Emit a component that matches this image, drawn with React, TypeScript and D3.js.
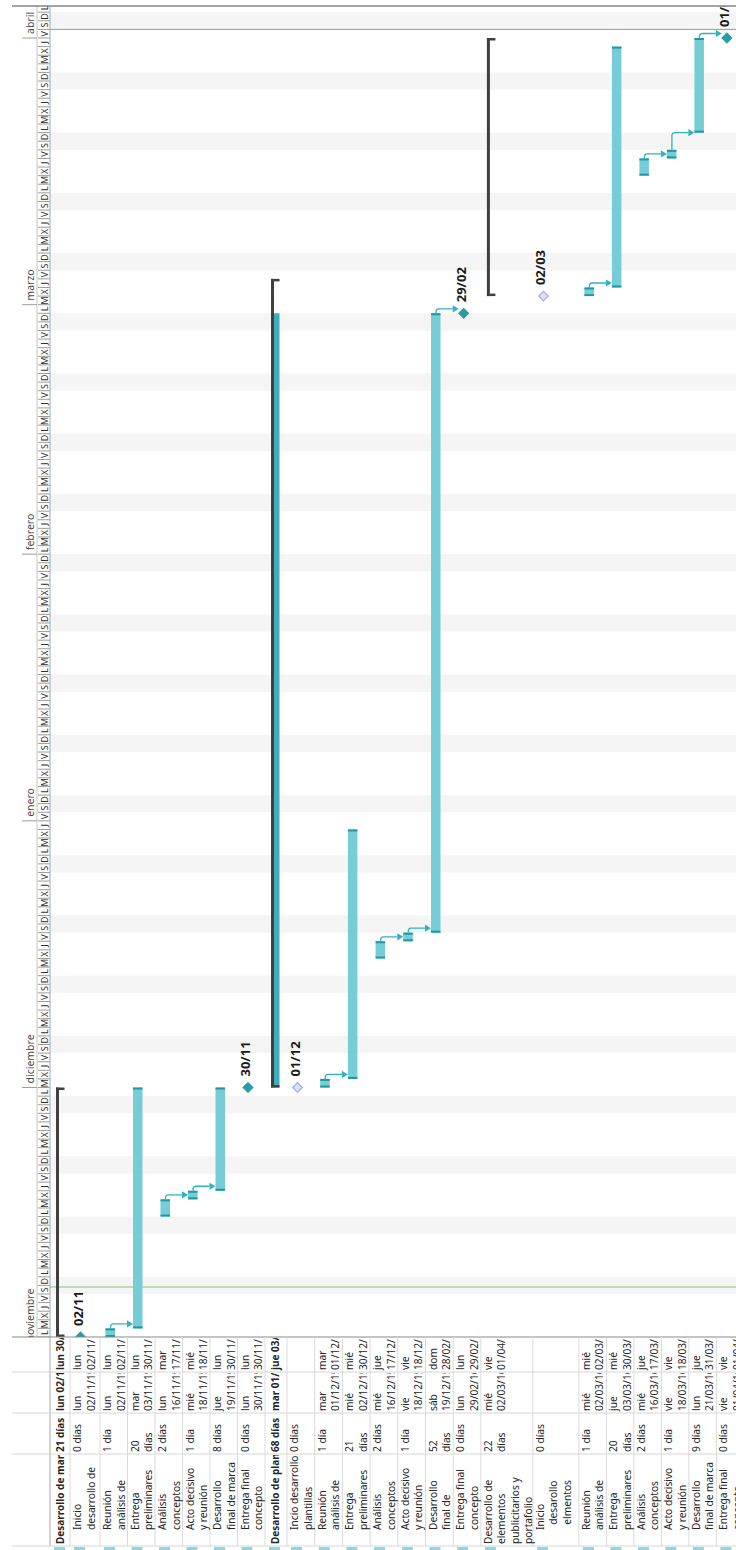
import React from "react";
import * as d3 from "d3";

const W = 736;
const H = 1550;

// ---------------- data ----------------
const taskNames = [
  "Desarrollo de marca",
  "Inicio|desarrollo de",
  "Reunión|análisis de",
  "Entrega|preliminares",
  "Análisis|conceptos",
  "Acto decisivo|y reunión",
  "Desarrollo|final de marca",
  "Entrega final|concepto",
  "Desarrollo de plantillas",
  "Incio desarrollo|plantillas",
  "Reunión|análisis de",
  "Entrega|preliminares",
  "Análisis|conceptos",
  "Acto decisivo|y reunión",
  "Desarrollo|final de",
  "Entrega final|concepto",
  "Desarrollo de|elementos|publicitarios y|portafolio",
  "Inicio|  desarollo|  elmentos",
  "Reunión|análisis de",
  "Entrega|preliminares",
  "Análisis|conceptos",
  "Acto decisivo|y reunión",
  "Desarrollo|final de marca",
  "Entrega final|concepto",
];

const durations = [
  "21 días", "0 días", "1 día", "20 días", "2 días", "1 día", "8 días", "0 días",
  "68 días", "0 días", "1 día", "21 días", "2 días", "1 día", "52 días", "0 días",
  "22 días", "0 días", "1 día", "20 días", "2 días", "1 día", "9 días", "0 días",
];

const startTexts = [
  "lun 02/11/15", "lun 02/11/15", "lun 02/11/15", "mar 03/11/15", "lun 16/11/15", "mié 18/11/15",
  "jue 19/11/15", "lun 30/11/15", "mar 01/12/15", "", "mar 01/12/15", "mié 02/12/15",
  "mié 16/12/15", "vie 18/12/15", "sáb 19/12/15", "lun 29/02/16", "mié 02/03/16", "",
  "mié 02/03/16", "jue 03/03/16", "mié 16/03/16", "vie 18/03/16", "lun 21/03/16", "vie 01/04/16",
];

const finishTexts = [
  "lun 30/11/15", "lun 02/11/15", "lun 02/11/15", "lun 30/11/15", "mar 17/11/15", "mié 18/11/15",
  "lun 30/11/15", "lun 30/11/15", "jue 03/03/16", "", "mar 01/12/15", "mié 30/12/15",
  "jue 17/12/15", "vie 18/12/15", "dom 28/02/16", "lun 29/02/16", "vie 01/04/16", "",
  "mié 02/03/16", "mié 30/03/16", "jue 17/03/16", "vie 18/03/16", "jue 31/03/16", "vie 01/04/16",
];

// drawn kinds: summary bracket, task bar, milestone (filled), open milestone
const rowKinds = [
  "summary", "milestone", "task", "task", "task", "task", "task", "milestone",
  "summary", "open", "task", "task", "task", "task", "task", "milestone",
  "summary", "open", "task", "task", "task", "task", "task", "milestone",
];

// timeline positions (from = start of day, to = exclusive end)
const barFrom = [
  "2015-11-02", "2015-11-02", "2015-11-02", "2015-11-03", "2015-11-16", "2015-11-18", "2015-11-19", "2015-12-01",
  "2015-12-01", "2015-12-01", "2015-12-01", "2015-12-02", "2015-12-16", "2015-12-18", "2015-12-19", "2016-02-29",
  "2016-03-02", "2016-03-02", "2016-03-02", "2016-03-03", "2016-03-16", "2016-03-18", "2016-03-21", "2016-04-01",
];
const barTo = [
  "2015-12-01", "2015-11-02", "2015-11-03", "2015-12-01", "2015-11-18", "2015-11-19", "2015-12-01", "2015-12-01",
  "2016-03-04", "2015-12-01", "2015-12-02", "2015-12-31", "2015-12-18", "2015-12-19", "2016-02-29", "2016-02-29",
  "2016-04-01", "2016-03-02", "2016-03-03", "2016-03-31", "2016-03-18", "2016-03-19", "2016-04-01", "2016-04-01",
];
const summaryProgressTo: (string | null)[] = [
  null, null, null, null, null, null, null, null,
  "2016-02-29", null, null, null, null, null, null, null,
  null, null, null, null, null, null, null, null,
];

const milestoneLabels = [
  "", "02/11", "", "", "", "", "", "30/11",
  "", "01/12", "", "", "", "", "", "29/02",
  "", "02/03", "", "", "", "", "", "01/04",
];

const links: [number, number][] = [
  [2, 3], [4, 5], [5, 6], [10, 11], [12, 13], [13, 14], [14, 15],
  [18, 19], [20, 21], [21, 22], [22, 23],
];

const boldRows = [0, 8];
const topLevelRows = [0, 8, 16];

const monthNames = [
  "enero", "febrero", "marzo", "abril", "mayo", "junio", "julio",
  "agosto", "septiembre", "octubre", "noviembre", "diciembre",
];
const dayLetters = ["D", "L", "M", "X", "J", "V", "S"];

const statusDate = "2015-11-07T19:30:00Z";
const boundaryDate = "2016-04-02";

// ---------------- layout ----------------
const rowHeights = [
  20, 30, 27.5, 27.5, 27.5, 27.5, 27.5, 27.5,
  22, 27.7, 27.7, 27.7, 27.7, 27.7, 27.7, 27.7,
  52, 46, 27.5, 27.5, 27.5, 27.5, 27.5, 27.5,
];
const ROW0 = 50;
const rowStarts = rowHeights.map((_, i) => ROW0 + d3.sum(rowHeights.slice(0, i)));
const rowEnd = ROW0 + d3.sum(rowHeights);

const COLS = [4, 96, 137, 178, 213]; // table column edges (local u)
const CHART_U0 = 213;
const CHART_U1 = 1544;
const HDR_V0 = 12;
const TIER_V = 37;

const pd = (s: string) => new Date(s.length <= 10 ? s + "T00:00:00Z" : s);

const x = d3
  .scaleUtc()
  .domain([pd("2015-11-02"), pd("2016-04-01")])
  .range([213, 1512]);

const FONT = "'Noto Sans', 'Open Sans', sans-serif";
const BAR_FILL = "#76CDD6";
const BAR_CAP = "#1F98A3";
const LINK = "#2FB3C2";
const TEXT = "#262626";

function diamond(cx: number, cy: number, r: number) {
  return `M${cx - r},${cy} L${cx},${cy - r} L${cx + r},${cy} L${cx},${cy + r} Z`;
}

export default function App() {
  const saturdays = d3.utcSaturday.range(pd("2015-10-24"), pd("2016-04-16"));
  const days = d3.utcDay.range(pd("2015-10-30"), pd("2016-04-08"));
  const months = d3.utcMonth.range(pd("2015-10-01"), pd("2016-05-01"));

  const barV = (i: number) => rowStarts[i] + 10.5;

  return (
    <svg
      width={W}
      height={H}
      style={{ position: "absolute", left: 0, top: 0, background: "#fff" }}
      fontFamily={FONT}
    >
      <g transform={`translate(0,${H}) rotate(-90)`}>
        <defs>
          <clipPath id="chartClip">
            <rect x={CHART_U0} y={ROW0} width={CHART_U1 - CHART_U0} height={W - ROW0} />
          </clipPath>
          <clipPath id="hdrClip">
            <rect x={CHART_U0} y={HDR_V0} width={CHART_U1 - CHART_U0} height={ROW0 - HDR_V0} />
          </clipPath>
          {COLS.slice(0, 4).map((c, k) => (
            <clipPath id={`col${k}`} key={k}>
              <rect x={c} y={ROW0} width={COLS[k + 1] - c - 1} height={rowEnd - ROW0} />
            </clipPath>
          ))}
        </defs>

        {/* ---------- chart area ---------- */}
        <g clipPath="url(#chartClip)">
          {saturdays.map((s, i) => (
            <rect
              key={i}
              x={x(s)}
              y={ROW0}
              width={x(d3.utcDay.offset(s, 2)) - x(s)}
              height={W - ROW0}
              fill="#F5F5F5"
            />
          ))}
          <line
            x1={x(pd(boundaryDate))}
            x2={x(pd(boundaryDate))}
            y1={ROW0}
            y2={W}
            stroke="#9A9A9A"
            strokeWidth={1}
          />
          <line
            x1={x(pd(statusDate))}
            x2={x(pd(statusDate))}
            y1={ROW0}
            y2={W}
            stroke="#A6D49E"
            strokeWidth={1.5}
          />

          {/* links */}
          {links.map(([a, b], k) => {
            const predEnd = x(pd(barTo[a]));
            const succStart = x(pd(barFrom[b]));
            const v0 = barV(a);
            const succLeft =
              rowKinds[b] === "task" ? rowStarts[b] + 5.5 : barV(b) - 5;
            const au = Math.max(predEnd + 4.5, succStart);
            const r = 3;
            const tip = succLeft;
            const base = tip - 6;
            return (
              <g key={k}>
                <path
                  d={`M${predEnd},${v0} H${au - r} Q${au},${v0} ${au},${v0 + r} V${base}`}
                  fill="none"
                  stroke={LINK}
                  strokeWidth={1.3}
                />
                <path
                  d={`M${au - 3.6},${base} L${au + 3.6},${base} L${au},${tip} Z`}
                  fill={LINK}
                />
              </g>
            );
          })}

          {/* bars */}
          {rowKinds.map((kind, i) => {
            const rs = rowStarts[i];
            const u0 = x(pd(barFrom[i]));
            const u1 = x(pd(barTo[i]));
            if (kind === "task") {
              return (
                <g key={i}>
                  <rect x={u0} y={rs + 5.5} width={u1 - u0} height={9.5} fill={BAR_FILL} />
                  <rect x={u0} y={rs + 5.5} width={2} height={9.5} fill={BAR_CAP} />
                  <rect x={u1 - 2} y={rs + 5.5} width={2} height={9.5} fill={BAR_CAP} />
                </g>
              );
            }
            if (kind === "summary") {
              const p = summaryProgressTo[i];
              return (
                <g key={i}>
                  {p && (
                    <rect x={u0} y={rs + 9} width={x(pd(p)) - u0} height={5.5} fill="#3FAEB8" />
                  )}
                  <rect x={u0} y={rs + 6} width={u1 - u0} height={3} fill="#404040" />
                  <rect x={u0} y={rs + 6} width={2.5} height={8.5} fill="#404040" />
                  <rect x={u1 - 2.5} y={rs + 6} width={2.5} height={8.5} fill="#404040" />
                </g>
              );
            }
            const cv = barV(i);
            const open = kind === "open";
            return (
              <g key={i}>
                <path
                  d={diamond(u0, cv, 4.8)}
                  fill={open ? "#DCE1F6" : "#2A9CA4"}
                  stroke={open ? "#A3AEDF" : "#2A9CA4"}
                  strokeWidth={1.2}
                />
                <text
                  x={u0 + 11}
                  y={cv + 2}
                  fontSize={13}
                  fontWeight="bold"
                  fill="#1A1A1A"
                >
                  {milestoneLabels[i]}
                </text>
              </g>
            );
          })}
        </g>

        {/* ---------- timescale header ---------- */}
        <g clipPath="url(#hdrClip)">
          <line x1={CHART_U0} x2={CHART_U1} y1={TIER_V} y2={TIER_V} stroke="#C4C4C4" />
          {days.map((d, i) => (
            <g key={i}>
              <line x1={x(d)} x2={x(d)} y1={TIER_V + 1} y2={ROW0} stroke="#9C9C9C" strokeWidth={1} />
              <text
                x={(x(d) + x(d3.utcDay.offset(d, 1))) / 2}
                y={47.5}
                fontSize={9}
                textAnchor="middle"
                fill="#303030"
              >
                {dayLetters[d.getUTCDay()]}
              </text>
            </g>
          ))}
          {months.map((m, i) => (
            <g key={i}>
              <line x1={x(m)} x2={x(m)} y1={22} y2={TIER_V} stroke="#9C9C9C" />
              <text x={x(m) + 4} y={34} fontSize={10.5} fill="#4A4A4A">
                {monthNames[m.getUTCMonth()]}
              </text>
            </g>
          ))}
        </g>

        {/* ---------- frame lines ---------- */}
        <line x1={CHART_U1} x2={CHART_U1} y1={HDR_V0} y2={W} stroke="#4A4A4A" strokeWidth={1.2} />
        <line x1={COLS[0]} x2={CHART_U1} y1={ROW0} y2={ROW0} stroke="#A8A8A8" />
        <line x1={CHART_U0} x2={CHART_U0} y1={HDR_V0} y2={W} stroke="#8A8A8A" strokeWidth={1.2} />

        {/* ---------- table ---------- */}
        {COLS.slice(0, 4).map((c, k) => (
          <line key={k} x1={c} x2={c} y1={HDR_V0} y2={W} stroke="#D6D6D6" />
        ))}
        {rowStarts.slice(1).concat([rowEnd]).map((v, k) => (
          <line key={k} x1={COLS[0]} x2={CHART_U0} y1={v} y2={v} stroke="#DADADA" />
        ))}
        {rowStarts.map((rs, i) => (
          <rect key={i} x={0} y={rs + 4} width={3} height={11} fill="#8ED7E0" />
        ))}

        {taskNames.map((name, i) => {
          const rs = rowStarts[i];
          const bold = boldRows.includes(i);
          const fw = bold ? "bold" : "normal";
          const fs = bold ? 10 : 10.2;
          const lineV = (k: number) => (bold ? rs + 14 : rs + 11 + 13.5 * k);
          const nameLines = name.split("|");
          const dur = durations[i];
          const durNum = parseInt(dur, 10);
          const durLines = !bold && durNum >= 10 ? [String(durNum), "días"] : [dur];
          const split = (s: string) => {
            if (!s) return [];
            if (bold) return [s];
            const j = s.indexOf(" ");
            return [s.slice(0, j), s.slice(j + 1)];
          };
          const nameU = topLevelRows.includes(i) ? COLS[0] + 2 : COLS[0] + 16;
          const cell = (lines: string[], u: number, col: number) => (
            <g clipPath={`url(#col${col})`}>
              {lines.map((t, k) => (
                <text
                  key={k}
                  x={u}
                  y={lineV(k)}
                  fontSize={fs}
                  fontWeight={fw}
                  fill={TEXT}
                  style={{ whiteSpace: "pre" }}
                >
                  {t}
                </text>
              ))}
            </g>
          );
          return (
            <g key={i}>
              {cell(nameLines, nameU, 0)}
              {cell(durLines, COLS[1] + 2, 1)}
              {cell(split(startTexts[i]), COLS[2] + 2, 2)}
              {cell(split(finishTexts[i]), COLS[3] + 2, 3)}
            </g>
          );
        })}
      </g>
    </svg>
  );
}
